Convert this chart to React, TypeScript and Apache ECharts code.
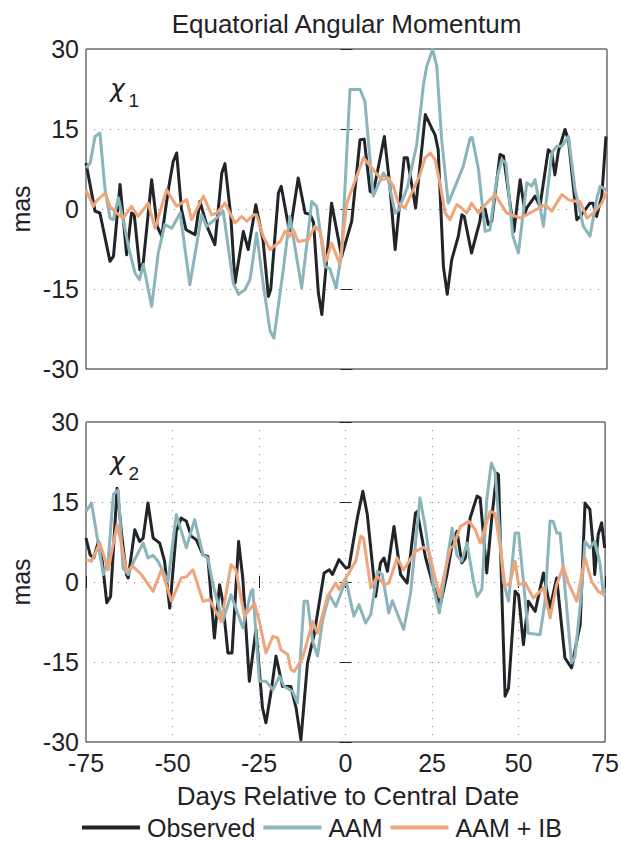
import React, { useEffect, useRef } from "react";
import * as echarts from "echarts";

// x-axis ticks (days) and y-axis ticks (mas)
const dayTicks = [-75, -50, -25, 0, 25, 50, 75];
const masTicks = [-30, -15, 0, 15, 30];
const seriesNames = ["Observed", "AAM", "AAM + IB"];
const panelLabels = ["1", "2"];

// chi_1 panel: [day, mas]
const observedChi1: [number, number][] = [
  [-75, 8.6], [-72.4, -0.4], [-71, -0.75], [-68.1, -9.8], [-67.1, -8.9], [-65.2, 4.6], [-63.3, -8.6],
  [-61.9, -0.75], [-61.1, -1.1], [-59.5, -11.4], [-58.5, -10], [-56.1, 5.5], [-54.5, -3.25], [-53.2, -5.1],
  [-51.3, 3.6], [-49.9, 8.9], [-48.9, 10.5], [-47.5, -0.1], [-46.2, -3.9], [-43.6, -4.8], [-42.2, 1.4],
  [-40, -3.5], [-37.9, -6.7], [-35.9, 6.75], [-35, 8.5], [-33.3, -1.4], [-32.1, -13.9], [-29.7, -4.2],
  [-28.3, -7.6], [-26.1, 0.8], [-24, -6], [-22.5, -16.4], [-21.8, -15], [-19.6, 3], [-18.8, 4.25],
  [-16.7, -3.25], [-16.2, -4], [-13.9, 5.8], [-11.9, -0.75], [-10.5, -1], [-9.5, -2.5], [-8.1, -15.75],
  [-7.1, -19.8], [-4.3, 1.1], [-1.4, -8.9], [1.5, -2.3], [3.9, 13], [5.1, 13.1], [6.8, 3.3], [7.7, 3],
  [10.9, 13.6], [12.5, 4.25], [14, -7.6], [16.6, 9.6], [17.5, 9.6], [19.9, 0.2], [22.7, 17.7], [24.5, 15.2],
  [25.5, 13.9], [26.4, 11.1], [27.9, -10.75], [29, -16], [30.3, -9.5], [32.2, -5.1], [33.2, -1.1],
  [33.9, -1.4], [36, -8.25], [37.5, -4.5], [38.4, -2.3], [38.9, 0.2], [39.9, 0], [40.8, -2.9], [41.8, -2.3],
  [44.2, 10.2], [45.2, 9.9], [48.2, -4.2], [50, 5.5], [51.4, -0.75], [51.9, 0.2], [54.3, 2.4], [55.7, 0.5],
  [58.1, 11.1], [59.1, 10.5], [60, 6.4], [61, 10.8], [62.9, 14.9], [63.9, 13], [66.3, -2], [67.3, -1.4],
  [70.1, 1.1], [71, 1.1], [72, -1.4], [73.5, 2.4], [74.7, 13.6],
];
const aamChi1: [number, number][] = [
  [-75, 7.7], [-73.8, 8.6], [-72.4, 13.6], [-71, 14.25], [-69.5, 3.6], [-68.1, -1.7], [-67.1, -2],
  [-65.7, 2.1], [-64.3, -2], [-62.8, -7], [-60.9, -12], [-59.6, -13.25], [-58.5, -10.4], [-56.1, -18.25],
  [-54.2, -8.25], [-52.3, -2.9], [-50.3, -3.6], [-47.9, -0.75], [-45.1, -14.2], [-41.7, -1.1], [-40.3, -3.25],
  [-37.4, -1.7], [-35.5, -0.4], [-32.6, -13.9], [-31.1, -16], [-29.2, -15.1], [-27.8, -13.25], [-26.8, -8.9],
  [-25.9, -4.5], [-24, -14], [-22, -22.9], [-20.9, -24.2], [-18.2, -11.4], [-16.3, -1.4], [-12.9, -14.8],
  [-10, 1.4], [-8.6, 0.5], [-6.2, -10.75], [-4.8, -11.2], [-3, -14.8], [-1.4, -8.25], [1, 22.4], [3.9, 22.4],
  [5.3, 20.2], [7.7, 2.4], [10.6, 6.75], [12, 5.5], [14, -0.75], [15, -0.2], [17.5, 4], [20.2, 12],
  [22.1, 23], [23.1, 26.75], [24.8, 29.9], [26, 26.75], [27.4, 13], [29.3, 1.1], [31.7, 4.9], [33.6, 8],
  [35.6, 13.3], [36.2, 13.4], [38, 7.4], [39.9, -4.2], [41.3, -3.9], [43.2, 5.5], [44.7, 9.25], [45.9, 8.6],
  [47.9, -5.1], [49.5, -8.25], [51.9, 4.9], [53.3, 4.3], [54.3, 5.5], [56.7, -3.25], [59.1, 10.5],
  [60.5, 11.75], [62, 11.8], [63.9, 13.6], [65.8, 3.6], [68.2, -3.25], [70.1, -5.1], [72, 1.75], [73, 4.25],
  [74.9, 3.6],
];
const aamIbChi1: [number, number][] = [
  [-75, 3.6], [-72.9, 0.5], [-72, 1.5], [-69.5, 3], [-68.1, 0.5], [-66.2, -0.75], [-64.3, -1.7], [-61.9, 0.5],
  [-60, -1.4], [-57.1, 1.1], [-55.1, -3.6], [-51.8, 3.6], [-48.9, 0.5], [-46, 1.75], [-44.6, -2], [-41.2, 2.4],
  [-38.8, -1.1], [-37.4, -0.8], [-35, 1.1], [-32.1, -2.6], [-30.2, -1.4], [-28.7, -2.3], [-26.8, -1.1],
  [-25.9, -1.1], [-24, -5.1], [-22, -7.6], [-19.1, -6.1], [-17.7, -4.2], [-16.3, -5.1], [-15.3, -3.9],
  [-13.9, -6.1], [-11, -5.75], [-9.1, -3.25], [-7.6, -4.2], [-5.9, -9.8], [-4.3, -6.4], [-1.9, -10.4],
  [0.1, 1.1], [4.9, 9.6], [7.3, 7.7], [10.1, 5.5], [12.1, 5.8], [13.5, 4.25], [14.9, 1.1], [16.8, 0.2],
  [19.2, 3.6], [21.2, 6.5], [22.6, 9.6], [24.1, 10.5], [25.5, 9.25], [26.9, 4.9], [28.4, -0.75], [29.8, -2],
  [31.7, 0.8], [32.6, 0.5], [34.6, -0.75], [36, 1.1], [38, -0.75], [40.4, 1.1], [42.8, 2.7], [46.1, -0.75],
  [50, -1.7], [53.8, -0.4], [57.2, 0.8], [59.1, -0.4], [62, 2.7], [63.9, 1.75], [66.3, 1.4], [67.3, 1.4],
  [69.2, -1.7], [71.1, -0.75], [73.5, 1.1], [74.9, 3.3],
];

// chi_2 panel: [day, mas]
const observedChi2: [number, number][] = [
  [-75, 8.25], [-73.8, 5.1], [-72.8, 4.5], [-71.4, 7.6], [-70.4, 4.5], [-69, -3.9], [-67.9, -2.7], [-66, 17.6],
  [-64.7, 8.9], [-63.3, 1.4], [-62.8, 0.75], [-60.9, 9.8], [-59.5, 7.6], [-58.5, 8.2], [-57.1, 14.8],
  [-55.6, 8.25], [-53.7, 7.3], [-52.3, 3.9], [-50.8, -4.9], [-48.9, 9.5], [-47.5, 12], [-46, 11.4],
  [-44.6, 8.6], [-43.1, 7.9], [-41.2, 5.1], [-39.8, 4.8], [-37.9, -10.5], [-36.4, -0.5], [-35.5, -3.6],
  [-34, -13.3], [-32.8, -13.3], [-30.9, 7.6], [-29.7, 0.75], [-27.8, -18.6], [-25.9, -8.9], [-24, -23.6],
  [-23, -26.4], [-21.5, -20.5], [-20.1, -13.9], [-18.2, -19.6], [-15.8, -19.6], [-14.3, -23.6], [-12.9, -29.6],
  [-11, -15.2], [-9.1, -9.9], [-6.2, 1.7], [-4.7, 2.3], [-3.8, 1.4], [-1.9, 4.2], [0.1, 2.6], [1, 2.8],
  [3.4, 12], [5, 17], [6.3, 12.6], [8.7, -2.7], [10.1, 3.6], [11.1, 4.5], [12.1, 2], [14, 10.4], [15.9, 1.4],
  [17.8, -0.2], [20.2, 12.9], [20.7, 13.2], [23.1, 4.6], [25.5, -1.1], [27.4, -4.25], [29.3, 1.4], [30.8, 7],
  [32.2, 9.5], [33.6, 3.6], [34.6, 4.5], [36, 12], [38, 16.1], [38.9, 15.75], [40.8, 1.7], [42.3, 12.3],
  [43.7, 20.4], [44.2, 20.1], [45.2, -3], [46.1, -21.4], [47.1, -19.9], [49, -1.75], [50, -2.5],
  [51.4, -11.75], [52.8, -3.6], [54.8, -5.5], [57.2, 1.7], [59.1, -4.9], [61, 0.75], [63.4, -14.25],
  [65.3, -16.1], [66.8, -11.1], [67.8, -8], [69.2, 14.8], [70.6, 13.6], [71.6, 6.4], [72, 1.4], [73, 8.9],
  [74, 11.1], [74.9, 6.4],
];
const aamChi2: [number, number][] = [
  [-75, 13.25], [-73.4, 14.8], [-71.9, 8.9], [-70, 1.4], [-68.6, 3.9], [-67.1, 16.4], [-65.7, 17.3],
  [-64.3, 2.6], [-62.8, 1.4], [-61.4, 3.6], [-58.5, 7.3], [-57.1, 4.5], [-55.6, 5], [-54.2, 3.9],
  [-51.3, 0.1], [-48.9, 12.6], [-46, 6.4], [-43.6, 11.7], [-41.2, 5.1], [-39.8, 4.5], [-38.3, -0.5],
  [-35.5, -7.4], [-33.1, -2.4], [-29.7, -8.6], [-27.3, -1.75], [-26.8, -1.4], [-24.9, -18.6], [-23, -18.6],
  [-21, -20.2], [-19.1, -17.7], [-17.7, -19.6], [-15.3, -20.5], [-13.9, -22.7], [-12, -3.6], [-11, -3.6],
  [-9.5, -11.1], [-8.1, -13.9], [-6.7, -7.4], [-4.7, -2.4], [-2.8, -4.6], [0.1, 0.4], [2.4, -6.4],
  [3.9, -4.25], [5.8, -7.7], [7.3, -6.1], [9.2, 2], [10.6, 1.4], [12.5, -5.8], [13.5, -3.5], [14.9, -5.8],
  [16.8, -8.9], [18.8, -2.1], [21.5, 15.75], [23.1, 10.1], [25.5, -1.4], [27.1, -5.8], [29.3, 3.9],
  [30.8, 10.1], [32.2, 5], [33.6, 3.9], [35.1, 7.3], [37, 0], [38, -2.7], [39.4, -1.4], [40.8, 15.4],
  [42.1, 22.3], [43.2, 20.75], [45.6, 0.1], [47.1, -3.6], [49, 9.2], [50, 9.2], [51.4, 0.1], [52.8, -9.6],
  [56.2, -9.9], [57.6, -3.9], [59.1, 11.4], [60, 11.4], [61, 9.2], [62, 9.2], [63.4, -1.1], [65.3, -15.2],
  [66.3, -14], [68.2, -1.75], [69.2, 7.6], [70.6, 6.4], [72, 7.6], [73.5, 3.6], [74.4, -1.75], [74.9, -2.7],
];
const aamIbChi2: [number, number][] = [
  [-75, 4.2], [-73.4, 3.9], [-71, 7.3], [-68.6, 2.3], [-66, 10.75], [-64.7, 7], [-63.3, 2], [-61.4, 2.9],
  [-59, 1.4], [-55.6, -1.75], [-53.2, 2.3], [-50.3, -3.6], [-47.5, 0.75], [-46, 1], [-44.1, 2.3],
  [-41.2, -3.6], [-39.3, -3.3], [-35.9, -7.4], [-33.1, 3.25], [-31.7, 2.3], [-29.2, -6.4], [-26.3, -4],
  [-24.9, -7.4], [-23, -13.3], [-21, -10.2], [-19.6, -10.5], [-18.7, -12.7], [-16.7, -13.6], [-15.8, -16.4],
  [-14.8, -16.75], [-12.4, -14.25], [-9.5, -7.4], [-8.1, -9.6], [-5.2, -2.7], [-2.8, -0.2], [-1.9, -1.4],
  [1.5, 2.3], [3, 4], [4.4, 8.6], [5.2, 8.2], [7.3, -1.1], [9.2, 1.1], [11.1, -0.5], [12.5, -0.2],
  [14.9, 4.5], [16.8, 2.3], [20.2, 5.75], [22.6, 6.5], [24.1, 5.75], [27.1, -2.7], [30.3, 6.4], [31.2, 6.7],
  [33.2, 10.4], [35.6, 11.4], [37.5, 9.8], [38.9, 7.3], [41.8, 13.25], [43.2, 12.9], [44.7, 6.4],
  [46.1, -0.8], [47.5, -0.2], [49, 3.9], [50, -0.5], [51.9, -0.2], [54.3, -3], [57.2, -1.1], [59.1, -6.75],
  [61, -0.5], [62.9, 2.9], [64.4, -0.2], [66.8, -3.6], [69.2, 4.5], [71.1, 0.1], [73, -1.75], [74.9, -2.4],
];

const COLORS = ["#212529", "#8bb5ba", "#efa57b"];
const TEXT = "#1f2226";
const FONT = '"Liberation Sans", Arial, Helvetica, sans-serif';

export default function App() {
  const ref = useRef<HTMLDivElement>(null);
  useEffect(() => {
    if (!ref.current) return;
    const chart = echarts.init(ref.current, undefined, { renderer: "svg" });
    const gridTops = [49, 422];
    const gridH = 320;
    const dotted = { type: [1, 7] as any, color: "#8a8a8a", width: 1 };
    const xAxes: any[] = [];
    const yAxes: any[] = [];
    [0, 1].forEach((g) => {
      xAxes.push({
        gridIndex: g, type: "value", min: dayTicks[0], max: dayTicks[dayTicks.length - 1], interval: 25,
        position: "bottom",
        axisLine: { show: false },
        axisTick: { show: g === 1, inside: true, length: 6, lineStyle: { color: "#222" } },
        axisLabel: {
          show: g === 1, fontSize: 25, color: TEXT, fontFamily: FONT, margin: 8,
          formatter: (v: number) => String(v),
        },
        splitLine: { show: g === 1, lineStyle: dotted },
      });
      xAxes.push({
        gridIndex: g, type: "value", min: dayTicks[0], max: dayTicks[dayTicks.length - 1], interval: 25,
        position: "top",
        axisLine: { show: false },
        axisTick: { show: g === 1, inside: true, length: 6, lineStyle: { color: "#222" } },
        axisLabel: { show: false },
        splitLine: { show: false },
      });
      yAxes.push({
        gridIndex: g, type: "value", min: masTicks[0], max: masTicks[masTicks.length - 1], interval: 15,
        position: "left",
        axisLine: { show: false },
        axisTick: { show: true, inside: true, length: 6, lineStyle: { color: "#222" } },
        axisLabel: { fontSize: 25, color: TEXT, fontFamily: FONT, margin: 7 },
        splitLine: { show: true, lineStyle: dotted },
      });
      yAxes.push({
        gridIndex: g, type: "value", min: masTicks[0], max: masTicks[masTicks.length - 1], interval: 15,
        position: "right",
        axisLine: { show: false },
        axisTick: { show: true, inside: true, length: 6, lineStyle: { color: "#222" } },
        axisLabel: { show: false },
        splitLine: { show: false },
      });
    });

    const panels = [
      [observedChi1, aamChi1, aamIbChi1],
      [observedChi2, aamChi2, aamIbChi2],
    ];
    const series: any[] = [];
    panels.forEach((sets, g) => {
      sets.forEach((data, i) => {
        series.push({
          type: "line", name: seriesNames[i], xAxisIndex: g * 2, yAxisIndex: g * 2,
          data, symbol: "none", showSymbol: false, clip: true, z: 2 + i,
          lineStyle: { color: COLORS[i], width: 3, join: "round" },
          itemStyle: { color: COLORS[i] },
        });
      });
    });

    const chiLabel = (sub: string, x: number, y: number) => [
      {
        type: "text", x, y, z: 10,
        style: { text: "χ", fill: TEXT, fontSize: 25, fontFamily: '"DejaVu Sans", sans-serif', fontStyle: "italic", align: "left", verticalAlign: "middle" },
      },
      {
        type: "text", x: x + 18.5, y: y + 12, z: 10,
        style: { text: sub, fill: TEXT, fontSize: 19, fontFamily: FONT, align: "left", verticalAlign: "middle" },
      },
    ];

    chart.setOption({
      animation: false,
      grid: gridTops.map((t) => ({
        left: 86, top: t, width: 521, height: gridH, show: true,
        borderColor: "#222", borderWidth: 1, backgroundColor: "transparent",
      })),
      xAxis: xAxes,
      yAxis: yAxes,
      legend: {
        data: seriesNames, left: 82, top: 815, padding: 0, itemGap: 8,
        itemWidth: 58, itemHeight: 4, icon: "rect",
        textStyle: { fontSize: 25, lineHeight: 22, color: TEXT, fontFamily: FONT, padding: [0, 0, 0, 2] },
      },
      graphic: [
        {
          type: "text", x: 346.5, y: 24,
          style: { text: "Equatorial Angular Momentum", fill: TEXT, fontSize: 26, fontFamily: FONT, align: "center", verticalAlign: "middle" },
        },
        {
          type: "text", x: 348, y: 796,
          style: { text: "Days Relative to Central Date", fill: TEXT, fontSize: 26, fontFamily: FONT, align: "center", verticalAlign: "middle" },
        },
        ...gridTops.map((t) => ({
          type: "text", x: 21, y: t + gridH / 2, rotation: Math.PI / 2,
          style: { text: "mas", fill: TEXT, fontSize: 25, fontFamily: FONT, align: "center", verticalAlign: "middle" },
        })),
        ...chiLabel(panelLabels[0], 110, 88),
        ...chiLabel(panelLabels[1], 110, 461),
      ],
      series,
    });
    return () => chart.dispose();
  }, []);
  return <div ref={ref} style={{ position: "absolute", left: 0, top: 0, width: 622, height: 841 }} />;
}
